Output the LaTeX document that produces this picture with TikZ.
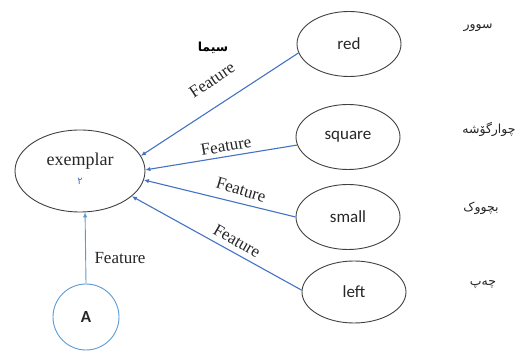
\documentclass[tikz,border=0pt]{standalone}
\usepackage{fontspec}
\setmainfont{Liberation Serif}
\newfontfamily\calib{Carlito}
\newfontfamily\arabicfont[Script=Arabic]{DejaVu Sans}
\TeXXeTstate=1
\usetikzlibrary{shapes.geometric,arrows.meta}
\definecolor{edgeblue}{HTML}{4472C4}
\definecolor{lightblue}{HTML}{5B9BD5}
\definecolor{outl}{HTML}{404040}
\definecolor{txt}{HTML}{262626}
\tikzset{
  valbox/.style={ellipse,draw=outl,line width=0.9pt,minimum width=104pt,minimum height=65pt,inner sep=0pt,font=\calib\fontsize{17}{20}\selectfont,text=txt},
  featlbl/.style={font=\fontsize{17}{20}\selectfont,text=txt,inner sep=0pt},
  kurd/.style={font=\arabicfont\fontsize{12.5}{15}\selectfont,text=txt,inner sep=0pt},
  link/.style={draw=edgeblue,line width=1.1pt,-{Latex[length=5pt,width=4.5pt]}},
}
\begin{document}
\begin{tikzpicture}[x=1pt,y=-1pt]
\useasboundingbox (0,0) rectangle (528,352);
\node[ellipse,draw=outl,line width=0.9pt,minimum width=130pt,minimum height=82pt,inner sep=0pt] (ex) at (80,171) {};
\node[font=\fontsize{18}{20}\selectfont,text=txt,inner sep=0pt] (extxt) at (80,161) {exemplar};
\node[font=\arabicfont\fontsize{10}{12}\selectfont,text=edgeblue,inner sep=0pt] (two) at (80,181) {\beginR ٢\endR};
\node[valbox] (red) at (349,44) {red};
\node[valbox] (square) at (348,137) {square};
\node[valbox] (small) at (348,217) {small};
\node[valbox,minimum height=62pt] (left) at (354,292) {left};
\node[circle,draw=lightblue,line width=0.9pt,minimum size=66pt,inner sep=0pt,font=\calib\bfseries\fontsize{17}{20}\selectfont,text=txt] (A) at (86,317) {A};
\draw[link] (red.190) -- (ex.14);
\draw[link] (square.189) -- (ex.1);
\draw[link] (small.180) -- (ex.-8);
\draw[link] (left.178) -- (ex.-26);
\draw[link,draw=lightblue,line width=0.9pt] (A.north) -- (ex.-83);
\node[featlbl,rotate=34] (f1) at (212,80) {Feature};
\node[featlbl,rotate=10] (f2) at (226,146) {Feature};
\node[featlbl,rotate=-17] (f3) at (241,190) {Feature};
\node[featlbl,rotate=-30] (f4) at (237,241) {Feature};
\node[featlbl] (f5) at (120,258) {Feature};
\node[font=\arabicfont\bfseries\fontsize{12.5}{15}\selectfont,text=black,inner sep=0pt] (sima) at (213,48) {\beginR سیما\endR};
\node[kurd] (k1) at (478,28) {\beginR سوور\endR};
\node[kurd] (k2) at (489,129) {\beginR چوارگۆشە\endR};
\node[kurd] (k3) at (481,208) {\beginR بچووک\endR};
\node[kurd] (k4) at (483,285) {\beginR چەپ\endR};
\end{tikzpicture}
\end{document}
